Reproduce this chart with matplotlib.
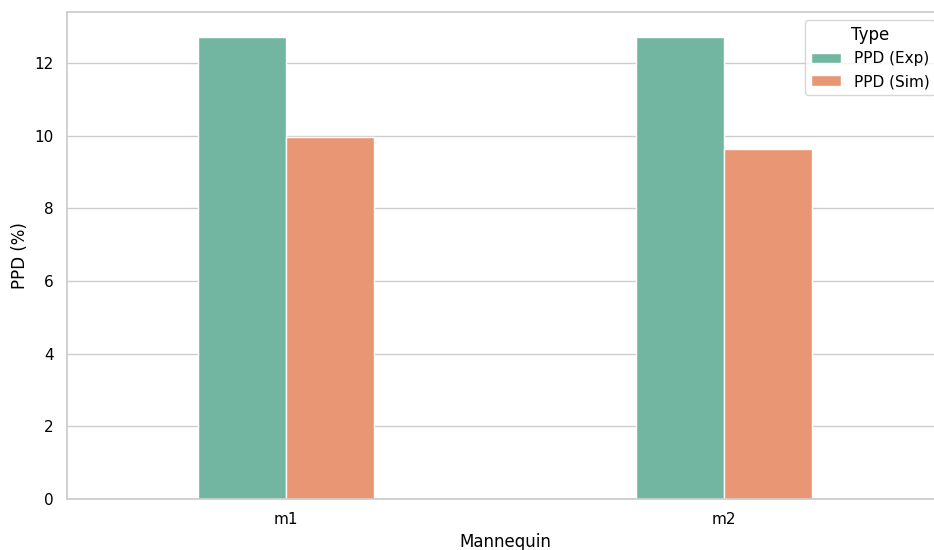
import numpy as np
import pandas as pd
import matplotlib
matplotlib.use('Agg')
import matplotlib.pyplot as plt
import seaborn as sns

# values
mannequins = ['m1', 'm2']
ppd_exp = [12.7, 12.7]
ppd_sim = [9.97, 9.62]
types = ['PPD (Exp)', 'PPD (Sim)']

df = pd.DataFrame({
    'Mannequin': mannequins * 2,
    'PPD (%)': ppd_exp + ppd_sim,
    'Type': [types[0]] * len(mannequins) + [types[1]] * len(mannequins),
})

sns.set_theme(style='whitegrid', context='notebook')
plt.rcParams['font.family'] = ['DejaVu Sans']
plt.rcParams['text.color'] = 'black'
plt.rcParams['axes.labelcolor'] = 'black'
plt.rcParams['xtick.color'] = 'black'
plt.rcParams['ytick.color'] = 'black'

fig = plt.figure(figsize=(9.34, 5.5), dpi=100)
ax = fig.add_axes([67 / 934, 51 / 550, (943 - 67) / 934, (499 - 12) / 550])

sns.barplot(data=df, x='Mannequin', y='PPD (%)', hue='Type',
            palette='Set2', width=0.4, ax=ax)

ax.set_ylim(0, 13.4)
ax.xaxis.grid(False)
ax.legend(title='Type', loc='upper right')

fig.savefig('out.png', dpi=100)
